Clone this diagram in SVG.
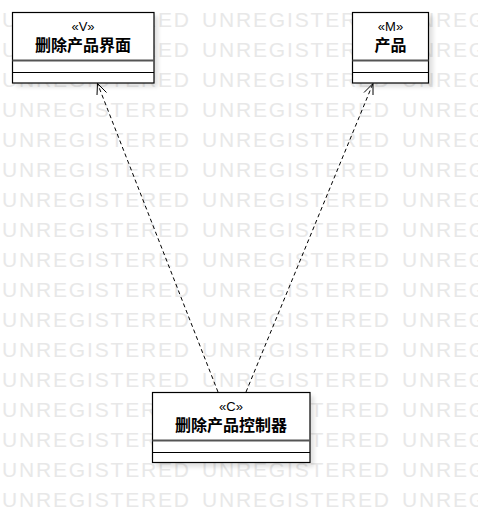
<svg xmlns="http://www.w3.org/2000/svg" width="478" height="513" viewBox="0 0 478 513">
<style>
.wm{font-family:"Liberation Sans",Arial,sans-serif;font-size:21px;fill:#e8e8e8}
.box{fill:#fff;stroke:#000;stroke-width:1.2}
.shadow{fill:#000;opacity:0.12;filter:url(#blur)}
.div1{stroke:#555;stroke-width:2}
.div2{stroke:#000;stroke-width:1.2}
.st{font-family:"Liberation Sans",Arial,sans-serif;font-size:13px;fill:#000;text-anchor:middle}
.nm{font-family:"Liberation Sans","Noto Sans CJK SC",sans-serif;font-size:16px;font-weight:bold;fill:#000;text-anchor:middle}
.dep{fill:none;stroke:#000;stroke-width:1;stroke-dasharray:4 3}
.head{fill:none;stroke:#000;stroke-width:1}
</style>
<defs>
<filter id="blur" x="-20%" y="-20%" width="140%" height="140%"><feGaussianBlur stdDeviation="2"/></filter>
</defs>
<rect width="478" height="513" fill="#fff"/>
<g id="watermark">
<text class="wm" y="27"><tspan x="2" textLength="187" lengthAdjust="spacing">UNREGISTERED</tspan><tspan x="202" textLength="187" lengthAdjust="spacing">UNREGISTERED</tspan><tspan x="402" textLength="187" lengthAdjust="spacing">UNREGISTERED</tspan></text>
<text class="wm" y="57"><tspan x="2" textLength="187" lengthAdjust="spacing">UNREGISTERED</tspan><tspan x="202" textLength="187" lengthAdjust="spacing">UNREGISTERED</tspan><tspan x="402" textLength="187" lengthAdjust="spacing">UNREGISTERED</tspan></text>
<text class="wm" y="87"><tspan x="2" textLength="187" lengthAdjust="spacing">UNREGISTERED</tspan><tspan x="202" textLength="187" lengthAdjust="spacing">UNREGISTERED</tspan><tspan x="402" textLength="187" lengthAdjust="spacing">UNREGISTERED</tspan></text>
<text class="wm" y="117"><tspan x="2" textLength="187" lengthAdjust="spacing">UNREGISTERED</tspan><tspan x="202" textLength="187" lengthAdjust="spacing">UNREGISTERED</tspan><tspan x="402" textLength="187" lengthAdjust="spacing">UNREGISTERED</tspan></text>
<text class="wm" y="147"><tspan x="2" textLength="187" lengthAdjust="spacing">UNREGISTERED</tspan><tspan x="202" textLength="187" lengthAdjust="spacing">UNREGISTERED</tspan><tspan x="402" textLength="187" lengthAdjust="spacing">UNREGISTERED</tspan></text>
<text class="wm" y="177"><tspan x="2" textLength="187" lengthAdjust="spacing">UNREGISTERED</tspan><tspan x="202" textLength="187" lengthAdjust="spacing">UNREGISTERED</tspan><tspan x="402" textLength="187" lengthAdjust="spacing">UNREGISTERED</tspan></text>
<text class="wm" y="207"><tspan x="2" textLength="187" lengthAdjust="spacing">UNREGISTERED</tspan><tspan x="202" textLength="187" lengthAdjust="spacing">UNREGISTERED</tspan><tspan x="402" textLength="187" lengthAdjust="spacing">UNREGISTERED</tspan></text>
<text class="wm" y="237"><tspan x="2" textLength="187" lengthAdjust="spacing">UNREGISTERED</tspan><tspan x="202" textLength="187" lengthAdjust="spacing">UNREGISTERED</tspan><tspan x="402" textLength="187" lengthAdjust="spacing">UNREGISTERED</tspan></text>
<text class="wm" y="267"><tspan x="2" textLength="187" lengthAdjust="spacing">UNREGISTERED</tspan><tspan x="202" textLength="187" lengthAdjust="spacing">UNREGISTERED</tspan><tspan x="402" textLength="187" lengthAdjust="spacing">UNREGISTERED</tspan></text>
<text class="wm" y="297"><tspan x="2" textLength="187" lengthAdjust="spacing">UNREGISTERED</tspan><tspan x="202" textLength="187" lengthAdjust="spacing">UNREGISTERED</tspan><tspan x="402" textLength="187" lengthAdjust="spacing">UNREGISTERED</tspan></text>
<text class="wm" y="327"><tspan x="2" textLength="187" lengthAdjust="spacing">UNREGISTERED</tspan><tspan x="202" textLength="187" lengthAdjust="spacing">UNREGISTERED</tspan><tspan x="402" textLength="187" lengthAdjust="spacing">UNREGISTERED</tspan></text>
<text class="wm" y="357"><tspan x="2" textLength="187" lengthAdjust="spacing">UNREGISTERED</tspan><tspan x="202" textLength="187" lengthAdjust="spacing">UNREGISTERED</tspan><tspan x="402" textLength="187" lengthAdjust="spacing">UNREGISTERED</tspan></text>
<text class="wm" y="387"><tspan x="2" textLength="187" lengthAdjust="spacing">UNREGISTERED</tspan><tspan x="202" textLength="187" lengthAdjust="spacing">UNREGISTERED</tspan><tspan x="402" textLength="187" lengthAdjust="spacing">UNREGISTERED</tspan></text>
<text class="wm" y="417"><tspan x="2" textLength="187" lengthAdjust="spacing">UNREGISTERED</tspan><tspan x="202" textLength="187" lengthAdjust="spacing">UNREGISTERED</tspan><tspan x="402" textLength="187" lengthAdjust="spacing">UNREGISTERED</tspan></text>
<text class="wm" y="447"><tspan x="2" textLength="187" lengthAdjust="spacing">UNREGISTERED</tspan><tspan x="202" textLength="187" lengthAdjust="spacing">UNREGISTERED</tspan><tspan x="402" textLength="187" lengthAdjust="spacing">UNREGISTERED</tspan></text>
<text class="wm" y="477"><tspan x="2" textLength="187" lengthAdjust="spacing">UNREGISTERED</tspan><tspan x="202" textLength="187" lengthAdjust="spacing">UNREGISTERED</tspan><tspan x="402" textLength="187" lengthAdjust="spacing">UNREGISTERED</tspan></text>
<text class="wm" y="507"><tspan x="2" textLength="187" lengthAdjust="spacing">UNREGISTERED</tspan><tspan x="202" textLength="187" lengthAdjust="spacing">UNREGISTERED</tspan><tspan x="402" textLength="187" lengthAdjust="spacing">UNREGISTERED</tspan></text>
</g>
<g id="connectors">
<path class="dep" d="M218,392 L97.5,83.5"/>
<path class="head" d="M97,95 L97.5,83.5 L106.5,92.5"/>
<path class="dep" d="M246,392 L373,83.5"/>
<path class="head" d="M373,95 L373,83.5 L364,92.5"/>
</g>
<g id="node-view">
<rect class="shadow" x="16" y="16" width="142" height="71"/>
<rect class="box" x="12.5" y="12.5" width="141.5" height="70.5"/>
<line class="div1" x1="12.5" y1="60.5" x2="154" y2="60.5"/>
<line class="div2" x1="12.5" y1="72.5" x2="154" y2="72.5"/>
<text class="st" x="83" y="31">«V»</text>
<text class="nm" x="83" y="50.5">删除产品界面</text>
</g>
<g id="node-model">
<rect class="shadow" x="356" y="16" width="77" height="71"/>
<rect class="box" x="352.5" y="12.5" width="76" height="70.5"/>
<line class="div1" x1="352.5" y1="60.5" x2="428.5" y2="60.5"/>
<line class="div2" x1="352.5" y1="72.5" x2="428.5" y2="72.5"/>
<text class="st" x="390.5" y="31">«M»</text>
<text class="nm" x="390.5" y="50.5">产品</text>
</g>
<g id="node-controller">
<rect class="shadow" x="156" y="396" width="158" height="71"/>
<rect class="box" x="152.5" y="392.5" width="157.5" height="70"/>
<line class="div1" x1="152.5" y1="440.5" x2="310" y2="440.5"/>
<line class="div2" x1="152.5" y1="452.5" x2="310" y2="452.5"/>
<text class="st" x="231" y="411">«C»</text>
<text class="nm" x="231" y="430.5">删除产品控制器</text>
</g>
</svg>
